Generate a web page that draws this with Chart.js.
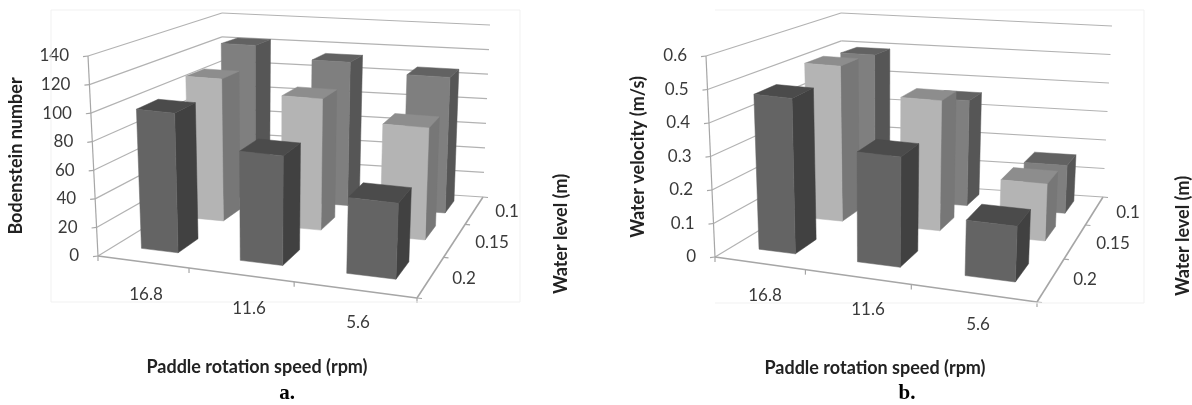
<!DOCTYPE html>
<html><head><meta charset="utf-8">
<style>
html,body{margin:0;padding:0;background:#fff;width:1192px;height:405px;overflow:hidden}
.p{position:absolute;top:0;width:596px;height:405px;filter:blur(0.55px)}
canvas{display:block}
</style>
<script src="https://cdn.jsdelivr.net/npm/chart.js@4"></script>
</head><body>
<div class="p" style="left:0"><canvas id="a" width="596" height="405"></canvas></div>
<div class="p" style="left:596px"><canvas id="b" width="596" height="405"></canvas></div>
<script>
// ---- data ----
const speeds = ['16.8', '11.6', '5.6'];
const waterLevels = ['0.2', '0.15', '0.1'];          // front row to back row
const bodenstein02  = [99, 77, 53];
const bodenstein015 = [107, 98, 83];
const bodenstein01  = [122, 113, 106];
const velocity02  = [0.47, 0.33, 0.165];
const velocity015 = [0.50, 0.415, 0.18];
const velocity01  = [0.49, 0.355, 0.16];

// ---- styles and depth layout ----
const rowStyles = [
  {front:'#646464', side:'#414141', top:'#4b4b4b'},
  {front:'#b4b4b4', side:'#777777', top:'#8d8d8d'},
  {front:'#7f7f7f', side:'#565656', top:'#626262'}
];
const rowCentres = [0.19, 0.55, 0.85];
const colShift = [0.003, 0.022, 0.017];
const DEPTH = 0.15, BAR_SHARE = 0.41;
const gridColor = '#b2b2b2', axisColor = '#a6a6a6', textColor = '#3a3a3a';

// ---- homography of the floor: corners [u0v0, u1v0, u1v1, u0v1] ----
function homography(c){
  const [p0,p1,p2,p3]=c;
  const dx1=p1[0]-p2[0],dx2=p3[0]-p2[0],sx=p0[0]-p1[0]+p2[0]-p3[0];
  const dy1=p1[1]-p2[1],dy2=p3[1]-p2[1],sy=p0[1]-p1[1]+p2[1]-p3[1];
  const det=dx1*dy2-dx2*dy1;
  const g=(sx*dy2-dx2*sy)/det,h=(dx1*sy-sx*dy1)/det;
  const a=p1[0]-p0[0]+g*p1[0],b=p3[0]-p0[0]+h*p3[0];
  const d=p1[1]-p0[1]+g*p1[1],e=p3[1]-p0[1]+h*p3[1];
  return (u,v)=>{const w=g*u+h*v+1;return [(a*u+b*v+p0[0])/w,(d*u+e*v+p0[1])/w];};
}
// vertical edges: the height vector is blended between the four corners
function projector(fr){
  const floor=homography(fr.floor);
  const hv=fr.roof.map((r,i)=>[r[0]-fr.floor[i][0],r[1]-fr.floor[i][1]]);
  return (u,v,z)=>{
    const f=floor(u,v);
    const k=[(1-u)*(1-v),u*(1-v),u*v,(1-u)*v];
    const hx=k.reduce((s,w,i)=>s+w*hv[i][0],0),hy=k.reduce((s,w,i)=>s+w*hv[i][1],0);
    return [f[0]+hx*z-fr.ox,f[1]+hy*z];
  };
}
function poly(ctx,pts,fill){
  ctx.beginPath();pts.forEach((p,i)=>i?ctx.lineTo(p[0],p[1]):ctx.moveTo(p[0],p[1]));ctx.closePath();
  ctx.fillStyle=fill;ctx.fill();ctx.strokeStyle=fill;ctx.lineWidth=0.5;ctx.stroke();
}
function line(ctx,a,b,color,w){
  ctx.beginPath();ctx.moveTo(a[0],a[1]);ctx.lineTo(b[0],b[1]);ctx.strokeStyle=color;ctx.lineWidth=w;ctx.stroke();
}
function zOf(scale,pix){return (scale.bottom-pix)/(scale.bottom-scale.top);}

const box3d = {
  id:'box3d',
  beforeDatasetsDraw(chart){
    const ctx=chart.ctx,fr=chart.options.plugins.box3d.frame,P=projector(fr),y=chart.scales.y;
    ctx.save();
    y.ticks.forEach(t=>{
      const z=zOf(y,y.getPixelForValue(t.value));
      const a=P(0,0,z),b=P(0,1,z),c=P(1,1,z);
      line(ctx,a,b,gridColor,1.2);line(ctx,b,c,gridColor,1.2);
      line(ctx,a,[a[0]-5,a[1]+0.6],axisColor,1.2);
    });
    line(ctx,P(0,0,0),P(0,0,1),axisColor,1.2);
    line(ctx,P(0,0,0),P(1,0,0),axisColor,1.6);
    line(ctx,P(1,0,0),P(1,1,0),axisColor,1.6);
    for(let i=0;i<=3;i++){const q=P(i/3,0,0);line(ctx,q,[q[0],q[1]+5],axisColor,1.2);}
    for(let i=0;i<=3;i++){const q=P(1,i/3,0);line(ctx,q,[q[0]+5,q[1]+0.5],axisColor,1.2);}
    // faint frame of the embedded chart
    ctx.strokeStyle='#f1f1f1';ctx.lineWidth=1;
    ctx.beginPath();
    const r=fr.border;
    if(r.left!==null){ctx.moveTo(r.left-fr.ox,r.bottom);ctx.lineTo(r.left-fr.ox,r.top);}
    ctx.moveTo(r.left===null?fr.floor[0][0]-fr.ox:r.left-fr.ox,r.top);ctx.lineTo(r.right-fr.ox,r.top);
    ctx.lineTo(r.right-fr.ox,r.bottom);ctx.lineTo(r.left===null?fr.floor[0][0]-fr.ox:r.left-fr.ox,r.bottom);
    ctx.stroke();
    ctx.restore();
  },
  beforeDatasetDraw(chart,args){
    const ctx=chart.ctx,fr=chart.options.plugins.box3d.frame,P=projector(fr);
    const y=chart.scales.y,area=chart.chartArea,meta=args.meta,st=rowStyles[args.index];
    meta.data.forEach((el,i)=>{
      const u=(el.x-area.left)/area.width+colShift[i],hw=el.width/area.width/2;
      const v=rowCentres[args.index],hd=DEPTH/2;
      const z=zOf(y,el.y);
      const u0=u-hw,u1=u+hw,v0=v-hd,v1=v+hd;
      poly(ctx,[P(u1,v0,0),P(u1,v1,0),P(u1,v1,z),P(u1,v0,z)],st.side);
      poly(ctx,[P(u0,v0,z),P(u1,v0,z),P(u1,v1,z),P(u0,v1,z)],st.top);
      poly(ctx,[P(u0,v0,0),P(u1,v0,0),P(u1,v0,z),P(u0,v0,z)],st.front);
    });
    return false;
  },
  afterDraw(chart){
    const ctx=chart.ctx,fr=chart.options.plugins.box3d.frame;
    ctx.save();ctx.textAlign='center';ctx.textBaseline='middle';
    fr.texts.forEach(t=>{
      ctx.save();ctx.translate(t.x-fr.ox,t.y);if(t.rot)ctx.rotate(t.rot);
      ctx.font=t.font;ctx.fillStyle=t.color||textColor;ctx.fillText(t.s,0,0);ctx.restore();
    });
    ctx.restore();
  }
};

const labelFont='17px Lato',titleFont='bold 18px Lato',capFont='bold 21px "Liberation Serif"';
const UP=-Math.PI/2;

function make(id,frame,series,max,step,decimals){
  const P0=frame.floor[0],P1=frame.roof[0];
  Chart.defaults.font.family='Lato';
  new Chart(document.getElementById(id),{
    type:'bar',
    data:{labels:speeds,datasets:series.map((d,i)=>({label:waterLevels[i],data:d,backgroundColor:rowStyles[i].front,
      grouped:false,barPercentage:BAR_SHARE,categoryPercentage:1}))},
    plugins:[box3d],
    options:{
      responsive:false,animation:false,
      layout:{padding:{left:P0[0]-frame.ox-frame.axisW,right:frame.padR,top:P1[1],bottom:405-P0[1]}},
      plugins:{legend:{display:false},tooltip:{enabled:false},box3d:{frame}},
      scales:{
        x:{type:'category',display:false,offset:true,grid:{display:false}},
        y:{min:0,max,grid:{display:false,drawTicks:false},border:{display:false},
          ticks:{stepSize:step,padding:frame.tickPad,color:textColor,font:{size:17,family:'Lato'},
            callback:v=>v===0?'0':v.toFixed(decimals)},
          afterFit(s){s.width=frame.axisW;},
          afterUpdate(s){
            if(s._slanted)return;s._slanted=true;
            const orig=s._computeLabelItems;
            s._computeLabelItems=function(ca){
              const items=orig.call(this,ca);
              items.forEach(it=>{
                const z=zOf(this,it.options.translation[1]);
                it.options.translation[0]+=(P1[0]-P0[0])*z;
              });
              return items;
            };
          }
        }
      }
    }
  });
}

const frameA={ox:0,axisW:60,padR:596-417,tickPad:19,
  floor:[[98,256],[417,298],[483,197],[222,180]],
  roof:[[88,56],[425,93],[490,25],[222,13]],
  border:{left:51,top:10,right:520,bottom:302},
  texts:[
    {s:'16.8',x:146,y:295,font:labelFont},{s:'11.6',x:249,y:309,font:labelFont},{s:'5.6',x:358,y:323,font:labelFont},
    {s:'0.1',x:507,y:212,font:labelFont},{s:'0.15',x:492,y:243,font:labelFont},{s:'0.2',x:464,y:279,font:labelFont},
    {s:'Bodenstein number',x:16,y:156,rot:UP,font:titleFont,color:'#222'},
    {s:'Water level (m)',x:561,y:234,rot:UP,font:titleFont,color:'#222'},
    {s:'Paddle rotation speed (rpm)',x:257,y:367,font:titleFont,color:'#222'},
    {s:'a.',x:287,y:394,font:capFont,color:'#000'}
  ]};
const frameB={ox:596,axisW:60,padR:596-(1037-596),tickPad:19,
  floor:[[715,257],[1037,302],[1103,197],[843,180]],
  roof:[[706,56],[1045,95],[1112,26],[841,13]],
  border:{left:null,top:10,right:1144,bottom:303},
  texts:[
    {s:'16.8',x:765,y:296,font:labelFont},{s:'11.6',x:868,y:310,font:labelFont},{s:'5.6',x:978,y:325,font:labelFont},
    {s:'0.1',x:1128,y:213,font:labelFont},{s:'0.15',x:1113,y:244,font:labelFont},{s:'0.2',x:1085,y:280,font:labelFont},
    {s:'Water velocity (m/s)',x:638,y:157,rot:UP,font:titleFont,color:'#222'},
    {s:'Water level (m)',x:1183,y:236,rot:UP,font:titleFont,color:'#222'},
    {s:'Paddle rotation speed (rpm)',x:875,y:368,font:titleFont,color:'#222'},
    {s:'b.',x:907,y:394,font:capFont,color:'#000'}
  ]};
make('a',frameA,[bodenstein02,bodenstein015,bodenstein01],140,20,0);
make('b',frameB,[velocity02,velocity015,velocity01],0.6,0.1,1);
</script>
</body></html>
